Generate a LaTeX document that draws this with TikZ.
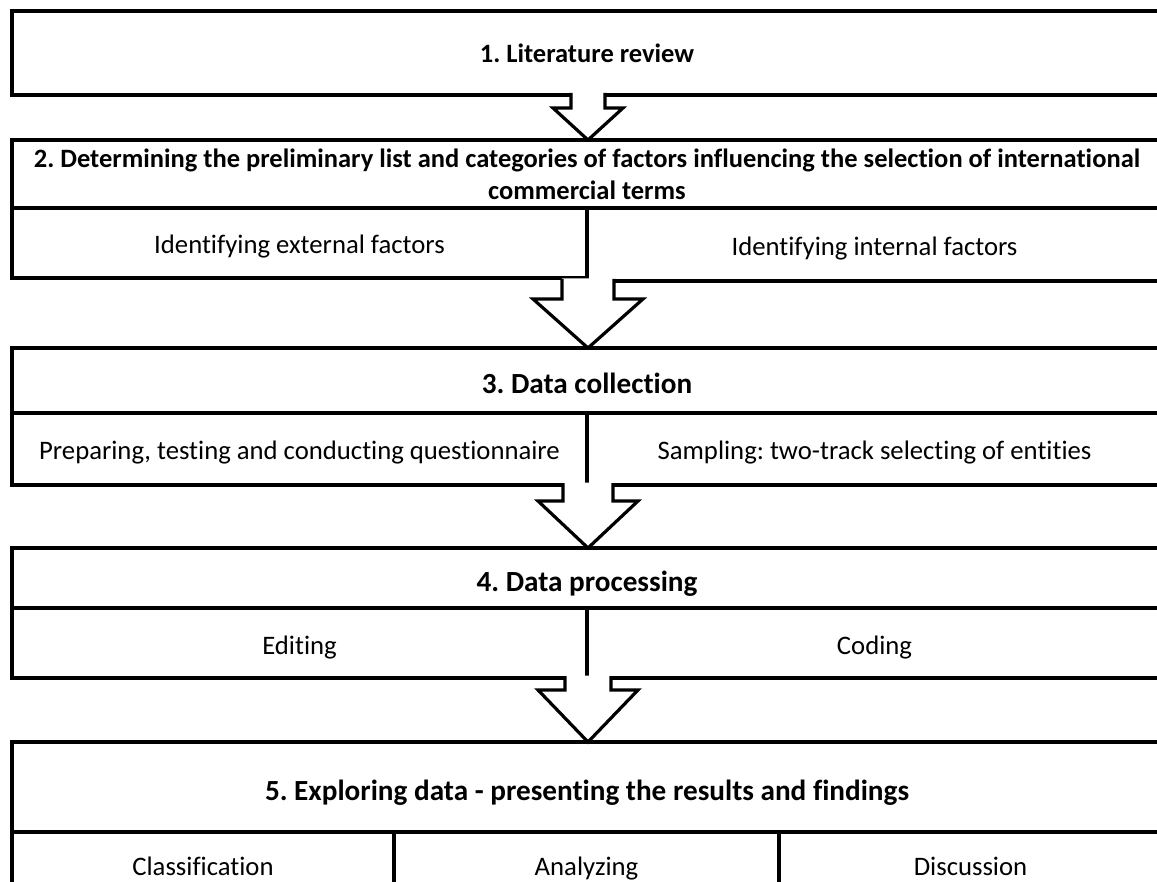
\documentclass[tikz,border=0pt]{standalone}
\usepackage{fontspec}
\setmainfont{Carlito}[Ligatures={NoCommon}]
\usetikzlibrary{calc}

% Block arrow between two stacked boxes: #1 upper node, #2 lower node,
% #3 half shaft width, #4 half head width, #5 depth of the shaft
\newcommand\blockarrow[5]{%
  \path (ax |- #1.south) coordinate (t) (ax |- #2.north) coordinate (b);
  \fill[white] ($(t)+(-#3,-2.5)$) -- ($(t)+(-#3,#5)$) -- ($(t)+(-#4,#5)$) -- (b)
     -- ($(t)+(#4,#5)$) -- ($(t)+(#3,#5)$) -- ($(t)+(#3,-2.5)$) -- cycle;
  \draw[arrowline] ($(t)+(-#3,-2)$) -- ($(t)+(-#3,#5)$) -- ($(t)+(-#4,#5)$) -- (b)
     -- ($(t)+(#4,#5)$) -- ($(t)+(#3,#5)$) -- ($(t)+(#3,-2)$);
}

\begin{document}
\frenchspacing
\begin{tikzpicture}[x=1pt,y=-1pt,
  cell/.style={draw=black, line width=3.6pt, fill=white, anchor=north west,
    inner sep=0pt, outer sep=0pt, align=center,
    text height=24pt, text depth=2pt,
    font=\fontsize{26.7}{32}\selectfont},
  head/.style={cell, text height=22pt, text depth=2pt,
    font=\fontsize{26.5}{32}\selectfont\bfseries},
  bighead/.style={cell, text height=28pt, text depth=2pt,
    font=\fontsize{29.2}{35}\selectfont\bfseries},
  arrowline/.style={draw=black, line width=3.2pt, line join=miter}]
\useasboundingbox (0,0) rectangle (1157,882);
\fill[white] (0,0) rectangle (1157,882);
\clip (0,0) rectangle (1157,882);

% centre line of the block arrows
\coordinate (ax) at (588,0);

% 1. Literature review
\node[head, minimum width=1150pt, minimum height=84pt] (b1) at (12,11) {1. Literature review};

% 2. Preliminary list
\node[head, minimum width=1150pt, minimum height=68pt, text height=, text depth=] (b2) at (12,140)
  {2. Determining the preliminary list and categories of factors influencing the selection of international\\commercial terms};
\node[cell, minimum width=575pt, minimum height=70pt] (b2l) at (12,208) {Identifying external factors};
\node[cell, minimum width=575pt, minimum height=73pt] (b2r) at (587,208) {Identifying internal factors};

% 3. Data collection
\node[bighead, minimum width=1150pt, minimum height=65pt] (b3) at (12,348) {3. Data collection};
\node[cell, minimum width=575pt, minimum height=72pt] (b3l) at (12,413) {Preparing, testing and conducting questionnaire};
\node[cell, minimum width=575pt, minimum height=72pt] (b3r) at (587,413) {Sampling: two-track selecting of entities};

% 4. Data processing
\node[bighead, minimum width=1150pt, minimum height=60pt] (b4) at (12,548) {4. Data processing};
\node[cell, minimum width=575pt, minimum height=70pt] (b4l) at (12,608) {Editing};
\node[cell, minimum width=575pt, minimum height=70pt] (b4r) at (587,608) {Coding};

% 5. Exploring data
\node[bighead, minimum width=1150pt, minimum height=90pt] (b5) at (12,742) {5. Exploring data - presenting the results and findings};
\node[cell, minimum width=382pt, minimum height=64pt] (b5a) at (12,832) {Classification};
\node[cell, minimum width=385pt, minimum height=64pt] (b5b) at (394,832) {Analyzing};
\node[cell, minimum width=383pt, minimum height=64pt] (b5c) at (779,832) {Discussion};
\draw[line width=3.6pt] (b5a.south west) -- ++(0,20) (b5b.south west) -- ++(0,20)
  (b5c.south west) -- ++(0,20);

% connecting block arrows
\blockarrow{b1}{b2}{17}{35}{13}
\blockarrow{b2r}{b3}{26}{55}{18}
\blockarrow{b3l}{b4}{25}{50}{16}
\blockarrow{b4l}{b5}{23}{50}{12}
\end{tikzpicture}
\end{document}
